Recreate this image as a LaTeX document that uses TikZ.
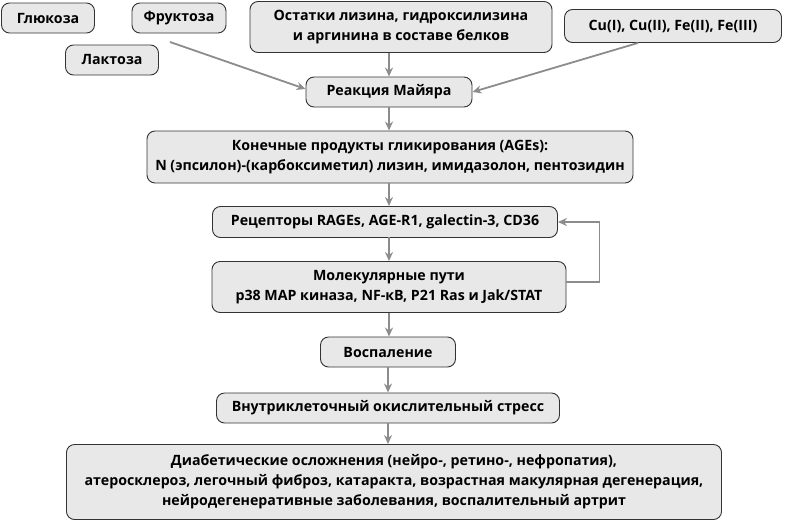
\documentclass[tikz,border=0pt]{standalone}
\usepackage{fontspec}
\setmainfont{Open Sans}
\usetikzlibrary{arrows.meta,calc}

\definecolor{boxfill}{HTML}{E8E8E8}
\definecolor{arrgray}{HTML}{8C8C8C}

\begin{document}
\begin{tikzpicture}[x=1pt,y=-1pt,
  box/.style={draw=black!80,line width=0.9pt,fill=boxfill,rounded corners=8pt,align=center,inner sep=1pt,
    font=\bfseries\fontsize{14.2}{20}\selectfont,text=black},
  arr/.style={draw=arrgray,line width=1.8pt,-{Stealth[length=9pt,width=8pt]}}]
\useasboundingbox (0,0) rectangle (786,525);
% sources
\node[box,minimum width=93,minimum height=30] (glu) at (48,18) {Глюкоза};
\node[box,minimum width=94,minimum height=30] (fru) at (179,18) {Фруктоза};
\node[box,minimum width=93,minimum height=30] (lac) at (112,60) {Лактоза};
\node[box,minimum width=302,minimum height=51] (res) at (401,27) {Остатки лизина, гидроксилизина\\и аргинина в составе белков};
\node[box,minimum width=217,minimum height=33] (met) at (673,26) {Cu(I), Cu(II), Fe(II), Fe(III)};
\coordinate (sug) at (170,42);
% main chain
\node[box,minimum width=166,minimum height=30] (mai) at (389,92) {Реакция Майяра};
\node[box,minimum width=486,minimum height=52] (age) at (390,157) {Конечные продукты гликирования (AGEs):\\N (эпсилон)-(карбоксиметил) лизин, имидазолон, пентозидин};
\node[box,minimum width=345,minimum height=31] (rec) at (385,222) {Рецепторы RAGEs, AGE-R1, galectin-3, CD36};
\node[box,minimum width=354,minimum height=51] (mol) at (389,287) {Молекулярные пути\\p38 MAP киназа, NF-кB, P21 Ras и Jak/STAT};
\node[box,minimum width=135,minimum height=30] (inf) at (388,352) {Воспаление};
\node[box,minimum width=343,minimum height=30] (oxs) at (388,408) {Внутриклеточный окислительный стресс};
\node[box,minimum width=655,minimum height=75] (dia) at (394,482) {Диабетические осложнения (нейро-, ретино-, нефропатия),\\атеросклероз, легочный фиброз, катаракта, возрастная макулярная дегенерация,\\нейродегенеративные заболевания, воспалительный артрит};
% connectors
\draw[arr] (sug) -- ([yshift=3pt]mai.west);
\draw[arr] (res.south -| mai.north) -- (mai.north);
\draw[arr] ([xshift=-35pt]met.south) -- (mai.east);
\draw[arr] (mai.south) -- (mai.south |- age.north);
\draw[arr] (mai.south |- age.south) -- (mai.south |- rec.north);
\draw[arr] (mol.north -| mai.south) ++(0,-24) -- (mol.north -| mai.south);
\draw[arr] (mol.south) -- (mol.south |- inf.north);
\draw[arr] (inf.south) -- (inf.south |- oxs.north);
\draw[arr] (oxs.south) -- (oxs.south |- dia.north);
\draw[arr] ([yshift=5pt]mol.east) -- ++(33,0) |- (rec.east);
\end{tikzpicture}
\end{document}
